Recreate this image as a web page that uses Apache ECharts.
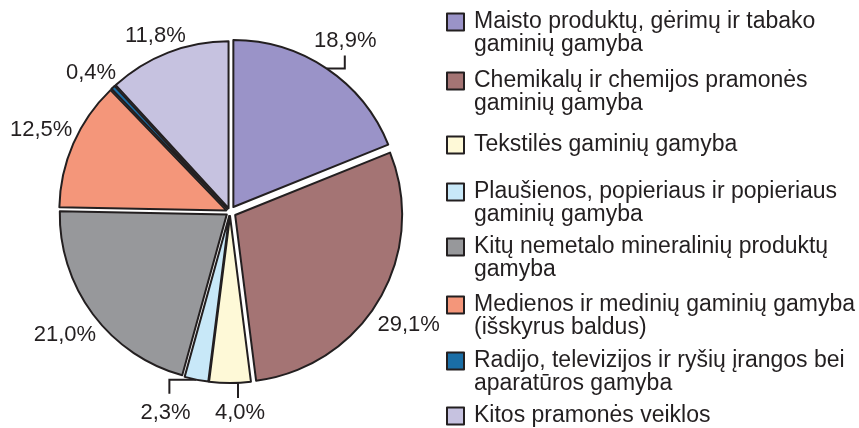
<!DOCTYPE html>
<html>
<head>
<meta charset="utf-8">
<script src="https://cdn.jsdelivr.net/npm/echarts@6/dist/echarts.min.js"></script>
<style>
  html, body { margin: 0; padding: 0; background: #fff; }
  #chart { width: 859px; height: 428px; }
</style>
</head>
<body>
<div id="chart"></div>
<script>
const categories = [
    'Maisto produktų, gėrimų ir tabako\ngaminių gamyba',
    'Chemikalų ir chemijos pramonės\ngaminių gamyba',
    'Tekstilės gaminių gamyba',
    'Plaušienos, popieriaus ir popieriaus\ngaminių gamyba',
    'Kitų nemetalo mineralinių produktų\ngamyba',
    'Medienos ir medinių gaminių gamyba\n(išskyrus baldus)',
    'Radijo, televizijos ir ryšių įrangos bei\naparatūros gamyba',
    'Kitos pramonės veiklos'
];
const shares = [18.9, 29.1, 4.0, 2.3, 21.0, 12.5, 0.4, 11.8];
const colors = ['#9a93c8', '#a47474', '#fef9d7', '#c8e8f8', '#97989b', '#f4967a', '#1a6ea6', '#c6c2e0'];

const INK = '#231f20';
const FONT = 'Liberation Sans, Arial, Helvetica, sans-serif';
const CENTER = [230, 212];
const R = 167;
const bigSlices = [0, 1];        // pulled out further

// leader lines: sideways step, then up/down step (by slice index)
const lineBend = { 0: [18, -13], 2: [8, 15], 3: [-27, 14] };

// small nudges for the percentage labels, by slice index
const labelNudge = { 1: [1, 9], 2: [10, -5], 3: [-24, -1], 6: [2, 11], 7: [0, 16] };

// legend rows (icon centre y)
const legendY = [22, 81, 145, 192, 247, 305, 361, 416];

const chart = echarts.init(document.getElementById('chart'));

const fmtPct = v => v.toFixed(1).replace('.', ',') + '%';

// the slices, drawn as two layers so the two big ones can be pulled out further
function sliceSeries(big) {
    return {
        type: 'pie',
        center: CENTER,
        radius: R,
        startAngle: 90,
        clockwise: true,
        selectedMode: 'multiple',
        selectedOffset: big ? 6 : 4,
        avoidLabelOverlap: false,
        animation: false,
        silent: true,
        emphasis: { disabled: true },
        label: {
            position: 'outside',
            color: 'rgba(0,0,0,0)',
            fontSize: 4,
            formatter: ' '
        },
        labelLine: {
            lineStyle: { color: INK, width: 2 }
        },
        labelLayout: params => {
            const bend = lineBend[params.dataIndex];
            const pts = params.labelLinePoints;
            if (!bend || !pts) return {};
            const p0 = pts[0];
            const p1 = [p0[0] + bend[0], p0[1]];
            const p2 = [p1[0], p1[1] + bend[1]];
            return { labelLinePoints: [p0, p1, p2] };
        },
        data: categories.map((name, i) => {
            const mine = bigSlices.includes(i) === big;
            const hasLine = mine && lineBend[i] !== undefined;
            return {
                name: name,
                value: shares[i],
                selected: true,
                itemStyle: mine
                    ? { color: colors[i], borderColor: INK, borderWidth: 2 }
                    : { color: 'rgba(0,0,0,0)', borderWidth: 0 },
                label: { show: hasLine },
                labelLine: { show: hasLine, length: 9, length2: 7 }
            };
        })
    };
}

// invisible ring whose inside labels sit around the pie
const labelSeries = {
    type: 'pie',
    center: CENTER,
    radius: [192, 214],
    startAngle: 90,
    clockwise: true,
    avoidLabelOverlap: false,
    animation: false,
    silent: true,
    emphasis: { disabled: true },
    labelLayout: { hideOverlap: false },
    itemStyle: { color: 'rgba(0,0,0,0)', borderWidth: 0 },
    label: {
        position: 'inside',
        color: INK,
        fontFamily: FONT,
        fontSize: 22,
        formatter: p => fmtPct(p.value)
    },
    labelLine: { show: false },
    data: categories.map((name, i) => ({
        name: name,
        value: shares[i],
        label: { offset: labelNudge[i] || [0, 0] }
    }))
};

const legends = categories.map((name, i) => {
    const twoLines = name.indexOf('\n') >= 0;
    return {
        left: 446,
        top: legendY[i] - (twoLines ? 34.5 : 11.5),
        padding: 0,
        orient: 'vertical',
        icon: 'rect',
        itemWidth: 17,
        itemHeight: 17,
        selectedMode: false,
        // leading blank line keeps the first text line level with the icon
        formatter: n => (n.indexOf('\n') >= 0 ? '\n' + n : n),
        itemStyle: { borderColor: INK, borderWidth: 2 },
        textStyle: {
            color: INK,
            fontFamily: FONT,
            fontSize: 23,
            lineHeight: 23,
            padding: [0, 0, 0, 5]
        },
        data: [{ name: name, itemStyle: { color: colors[i], borderColor: INK, borderWidth: 2 } }]
    };
});

const option = {
    backgroundColor: '#fff',
    legend: legends,
    series: [sliceSeries(false), sliceSeries(true), labelSeries]
};
chart.setOption(option);
</script>
</body>
</html>
